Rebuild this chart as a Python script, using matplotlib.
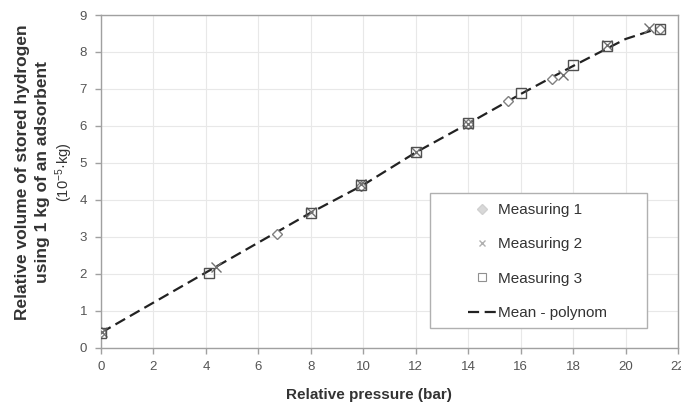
import matplotlib
matplotlib.use("Agg")
import matplotlib.pyplot as plt
from matplotlib.lines import Line2D
from matplotlib.patches import Rectangle

# ---- data ----
m1_x = [0.0, 6.7, 9.9, 14.0, 15.5, 17.2, 21.3]
m1_y = [0.42, 3.07, 4.38, 6.06, 6.68, 7.28, 8.62]

m2_x = [0.05, 4.4, 8.0, 9.9, 12.0, 14.0, 17.6, 19.3, 20.9]
m2_y = [0.42, 2.19, 3.67, 4.42, 5.28, 6.06, 7.38, 8.18, 8.64]

m3_x = [0.0, 4.1, 8.0, 9.9, 12.0, 14.0, 16.0, 18.0, 19.3, 21.3]
m3_y = [0.40, 2.03, 3.65, 4.40, 5.29, 6.07, 6.88, 7.65, 8.15, 8.62]

mean_x = [0.0, 4.0, 8.0, 10.0, 12.0, 14.0, 16.0, 18.0, 20.0, 21.3]
mean_y = [0.40, 2.03, 3.65, 4.40, 5.28, 6.06, 6.86, 7.62, 8.35, 8.65]

x_ticks = [0, 2, 4, 6, 8, 10, 12, 14, 16, 18, 20, 22]
y_ticks = [0, 1, 2, 3, 4, 5, 6, 7, 8, 9]

labels = ["Measuring 1", "Measuring 2", "Measuring 3", "Mean - polynom"]

plt.rcParams['font.family'] = ['Liberation Sans', 'DejaVu Sans']
plt.rcParams['mathtext.fontset'] = 'custom'
plt.rcParams['mathtext.rm'] = 'Liberation Sans'
plt.rcParams['mathtext.it'] = 'Liberation Sans:italic'
plt.rcParams['mathtext.bf'] = 'Liberation Sans:bold'

fig = plt.figure(figsize=(6.81, 4.05), dpi=100)
ax = fig.add_axes([101/681, 1-347.5/405, (678-101)/681, (347.5-15)/405])

ax.set_xlim(0, 22)
ax.set_ylim(0, 9)
ax.set_xticks(x_ticks)
ax.set_yticks(y_ticks)
ax.grid(True, color='#e8e8e8', linewidth=0.8)
ax.set_axisbelow(True)

for s in ax.spines.values():
    s.set_color('#a0a0a0')
    s.set_linewidth(1.0)
ax.tick_params(colors='#a0a0a0', labelcolor='#555555', labelsize=9.5, length=4, width=1, pad=6)

dash = (0, (5, 2.5))
ax.plot(mean_x, mean_y, color='#222222', lw=1.6, linestyle=dash, zorder=2)
ax.plot(m1_x, m1_y, linestyle='none', marker='D', ms=5.5, mfc='white', mec='#808080', mew=1.0, zorder=3)
ax.plot(m2_x, m2_y, linestyle='none', marker='x', ms=6.5, color='#707070', mew=1.0, zorder=4)
ax.plot(m3_x, m3_y, linestyle='none', marker='s', ms=6.5, mfc='none', mec='#505050', mew=1.0, zorder=5)

W = 678 - 101
H = 347.5 - 15

# legend frame
ax.add_patch(Rectangle(((430-101)/W, (347.5-328)/H), (647-430)/W, (328-193)/H,
                       transform=ax.transAxes, facecolor='white', edgecolor='#b0b0b0',
                       linewidth=1.0, zorder=6, clip_on=False))

handles = [
    Line2D([], [], linestyle='none', marker='D', ms=5, mfc='#d8d8d8', mec='#d0d0d0'),
    Line2D([], [], linestyle='none', marker='x', ms=5, color='#b0b0b0', mew=1.0),
    Line2D([], [], linestyle='none', marker='s', ms=5.5, mfc='white', mec='#909090', mew=0.8),
    Line2D([], [], color='#222222', lw=1.6, linestyle=dash),
]
leg = ax.legend(handles, labels, loc='upper left',
                bbox_to_anchor=((468-101)/W, (347.5-203)/H),
                frameon=False, fontsize=11, labelspacing=1.33,
                borderpad=0, handlelength=1.8, handletextpad=0.15,
                borderaxespad=0)
leg.set_zorder(7)
for t in leg.get_texts():
    t.set_color('#333333')

ax.set_xlabel("Relative pressure (bar)", fontsize=11, fontweight='bold', color='#333333')
ax.xaxis.set_label_coords(0.5 + (369 - 389.5) / W, (347.5 - 395) / H)
ax.xaxis.label.set_va('center')

yc = 1 - 172/405
fig.text(23/681, yc, "Relative volume of stored hydrogen", rotation=90,
         ha='center', va='center', fontsize=12.5, fontweight='bold', color='#333333')
fig.text(43/681, yc, "using 1 kg of an adsorbent", rotation=90,
         ha='center', va='center', fontsize=12.5, fontweight='bold', color='#333333')
fig.text(64/681, yc, "(10$^{-5}$·kg)", rotation=90,
         ha='center', va='center', fontsize=10.5, color='#333333')

fig.savefig("out.png", dpi=100)
